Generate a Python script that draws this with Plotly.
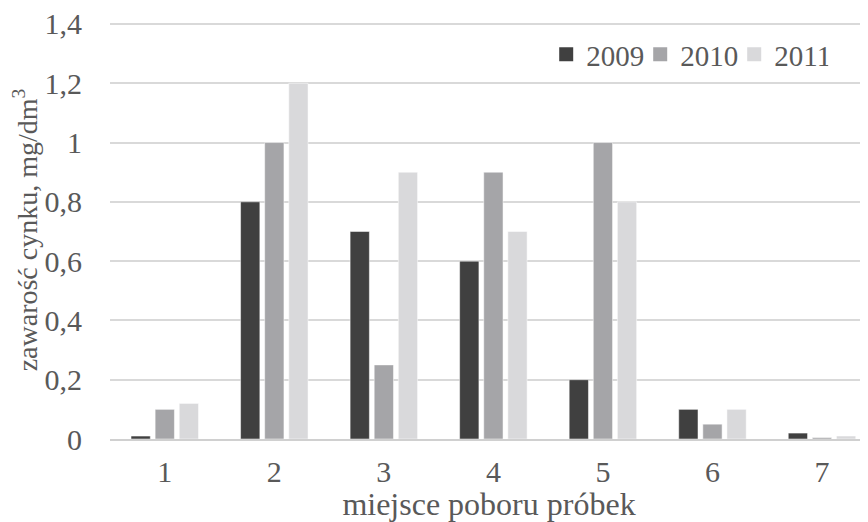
import plotly.graph_objects as go

categories = [1, 2, 3, 4, 5, 6, 7]
series_names = ["2009", "2010", "2011"]
v2009 = [0.01, 0.8, 0.7, 0.6, 0.2, 0.1, 0.02]
v2010 = [0.1, 1.0, 0.25, 0.9, 1.0, 0.05, 0.005]
v2011 = [0.12, 1.2, 0.9, 0.7, 0.8, 0.1, 0.01]
colors = ["#404040", "#a5a5a8", "#d9d9db"]
y_tickvals = [0, 0.2, 0.4, 0.6, 0.8, 1.0, 1.2, 1.4]
y_ticktext = ["0", "0,2", "0,4", "0,6", "0,8", "1", "1,2", "1,4"]

FONT = "Liberation Serif"
TXT = "#595959"
fig = go.Figure()
for name, vals, c in zip(series_names, [v2009, v2010, v2011], colors):
    fig.add_trace(go.Bar(x=categories, y=vals, name=name, showlegend=False,
                         marker=dict(color=c, line=dict(color="white", width=0.5))))
# legend entries with larger square swatches
for name, c in zip(series_names, colors):
    fig.add_trace(go.Scatter(x=[None], y=[None], mode="markers", name=name,
                             marker=dict(symbol="square", size=14, color=c)))

fig.update_layout(
    width=860, height=514,
    margin=dict(l=102, r=0, t=13, b=83),
    paper_bgcolor="white", plot_bgcolor="white",
    barmode="group", bargap=0.34, bargroupgap=0.2,
    font=dict(family=FONT, size=30, color=TXT),
    showlegend=True,
    legend=dict(orientation="h", x=0.9475, xanchor="right", y=0.92, yanchor="middle",
                font=dict(family=FONT, size=29, color=TXT),
                bgcolor="rgba(0,0,0,0)", itemwidth=30, tracegroupgap=0,
                entrywidth=49, entrywidthmode="pixels"),
    xaxis=dict(range=[0.5, 7.42], tickvals=categories, ticktext=[str(c) for c in categories],
               showgrid=False, showline=True, linecolor="#d0d0d0", linewidth=1.5,
               ticks="", zeroline=False, automargin=False, ticklabelstandoff=5,
               tickfont=dict(family=FONT, size=30, color=TXT),
               title=dict(text="miejsce poboru próbek", standoff=10,
                          font=dict(family=FONT, size=32, color=TXT))),
    yaxis=dict(range=[0, 1.41], tickvals=y_tickvals, ticktext=y_ticktext,
               showgrid=True, gridcolor="#d9d9d9", gridwidth=1.5,
               zeroline=False, showline=False, ticks="", ticklabelstandoff=27,
               automargin=False, ticklabeloverflow="allow",
               tickfont=dict(family=FONT, size=30, color=TXT),
               title=dict(text="zawarość cynku, mg/dm<sup>3</sup>", standoff=0,
                          font=dict(family=FONT, size=28, color=TXT))),
)
fig.write_html("out.html")
